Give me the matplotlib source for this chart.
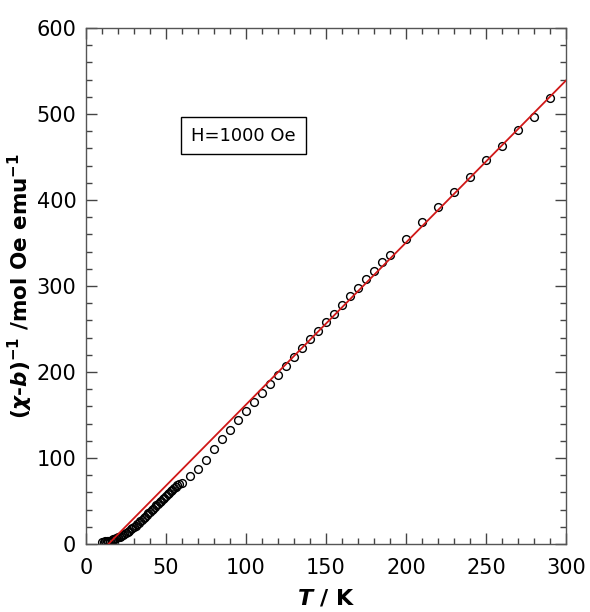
import numpy as np
import matplotlib
matplotlib.use("Agg")
import matplotlib.pyplot as plt
from matplotlib.ticker import MultipleLocator

# measured data (T in K, inverse susceptibility)
T_low = [10, 11, 12, 13, 14, 15, 16, 17, 18, 19, 20, 21, 22, 23, 24, 25, 26, 27,
         28, 29, 30, 31, 32, 33, 34, 35, 36, 37, 38, 39, 40, 41, 42, 43, 44, 45,
         46, 47, 48, 49, 50, 51, 52, 53, 54, 55, 56, 57, 58]
chi_low = [2.5, 2.7, 3.0, 3.3, 3.6, 4.0, 4.6, 5.3, 6.0, 6.8, 7.7, 8.6, 9.7, 10.8,
           11.9, 13.0, 14.2, 15.5, 16.9, 18.4, 19.9, 21.4, 23.0, 24.6, 26.3, 28.0,
           29.8, 31.7, 33.6, 35.5, 37.4, 39.3, 41.2, 43.0, 44.9, 46.8, 48.6, 50.5,
           52.3, 54.0, 55.8, 57.6, 59.4, 61.2, 63.0, 64.8, 66.5, 68.2, 69.8]
T_high = [60, 65, 70, 75, 80, 85, 90, 95, 100, 105, 110, 115, 120, 125, 130, 135,
          140, 145, 150, 155, 160, 165, 170, 175, 180, 185, 190, 200, 210, 220,
          230, 240, 250, 260, 270, 280, 290]
chi_high = [71, 79, 87, 98, 110, 122, 133, 144, 155, 165, 176, 186, 197, 207.5,
            217, 228, 238, 248, 258.5, 268, 278, 288, 298, 308, 318, 327.5, 336,
            355, 374, 392, 409, 427, 446, 463, 481, 496, 519]

# Curie-Weiss fit line end points
T_fit = [14, 300]
chi_fit = [0, 539]

T = T_low + T_high
chi = chi_low + chi_high

plt.rcParams['font.family'] = 'DejaVu Sans'
plt.rcParams['mathtext.fontset'] = 'custom'
plt.rcParams['mathtext.it'] = 'DejaVu Sans:italic:bold'
plt.rcParams['mathtext.rm'] = 'DejaVu Sans:bold'
plt.rcParams['mathtext.bf'] = 'DejaVu Sans:bold'

fig = plt.figure(figsize=(5.9, 6.12), dpi=100)
ax = fig.add_axes([0.1458, 0.1111, 0.8135, 0.8431])

ax.plot(T, chi, 'o', ms=5.6, mfc='none', mec='black', mew=1.0, zorder=2)
ax.plot(T_fit, chi_fit, '-', color='#d01818', lw=1.3, zorder=3)

ax.set_xlim(0, 300)
ax.set_ylim(0, 600)
ax.xaxis.set_major_locator(MultipleLocator(50))
ax.xaxis.set_minor_locator(MultipleLocator(10))
ax.yaxis.set_major_locator(MultipleLocator(100))
ax.yaxis.set_minor_locator(MultipleLocator(20))
ax.tick_params(which='both', direction='in', top=True, right=True,
               color='#444444', labelsize=15)
ax.tick_params(which='major', length=8, width=1)
ax.tick_params(which='minor', length=4, width=1)
ax.tick_params(axis='x', pad=10)
ax.tick_params(axis='y', pad=7)
for s in ax.spines.values():
    s.set_color('#555555')
    s.set_linewidth(1.0)

ax.set_xlabel(r'$T$ / K', fontsize=16, fontweight='bold', labelpad=7)
ax.set_ylabel(r'$(\chi$-$b)^{-1}$ /mol Oe emu$^{-1}$', fontsize=15.5,
              fontweight='bold', labelpad=1)

ax.text(98.5, 475, 'H=1000 Oe', fontsize=13, ha='center', va='center',
        bbox=dict(boxstyle='square,pad=0.55', fc='white', ec='black', lw=1))

fig.savefig('out.png', dpi=100)
